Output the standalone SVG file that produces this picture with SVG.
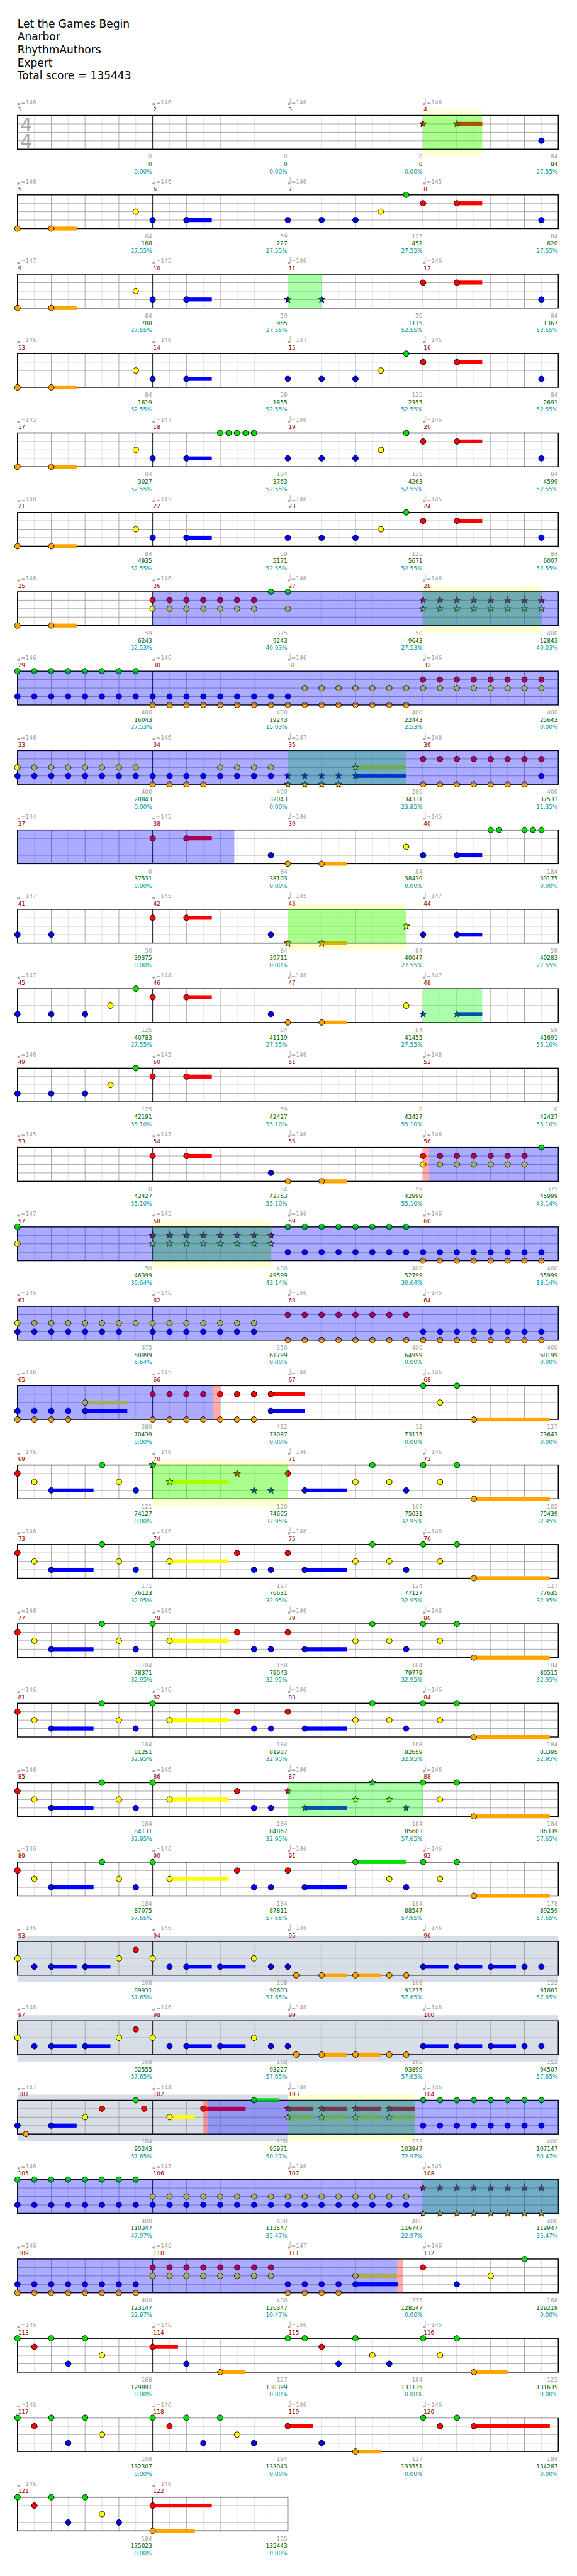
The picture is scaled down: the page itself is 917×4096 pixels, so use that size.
<svg xmlns="http://www.w3.org/2000/svg" width="917" height="4096" viewBox="0 0 917 4096">
<style>
.t{font-family:"DejaVu Sans","Liberation Sans",sans-serif;font-size:10px}
.h{font-family:"DejaVu Sans","Liberation Sans",sans-serif;font-size:19px;fill:#000}
.tp{fill:#a0a0a0}
.mn{fill:#990000}
.l1{fill:#a0a0a0;text-anchor:end}
.l2{fill:#006400;text-anchor:end}
.l3{fill:#009999;text-anchor:end}
.ts{font-family:"DejaVu Sans",sans-serif;font-size:33px;fill:#a8a8a8}
.n{stroke:#000;stroke-width:1}
.G{fill:#00e000}.R{fill:#ff0000}.Y{fill:#ffff00}.B{fill:#0000ff}.O{fill:#ffa500}
.gp{fill:#00ff00;fill-opacity:.33}
.sp{fill:#0000ff;fill-opacity:.33}
.pk{fill:#ff0000;fill-opacity:.33}
.yb{fill:#ffffd0}
.so{fill:#d8dee8}
.e8{stroke:#dddddd;stroke-width:1;fill:none}
.e4{stroke:#a0a0a0;stroke-width:1;fill:none}
.em{stroke:#000;stroke-width:1;fill:none}
.bd{stroke:#000;stroke-width:1.6;fill:none}
</style>
<defs>
<path id="st" d="M0,-6.5L1.53,-2.1L6.18,-2.01L2.47,0.8L3.82,5.26L0,2.6L-3.82,5.26L-2.47,0.8L-6.18,-2.01L-1.53,-2.1Z"/>
<g id="q" fill="#a8a8a8"><ellipse cx="1.8" cy="0" rx="2.4" ry="2"/><rect x="3.6" y="-11" width="1" height="11"/></g>
<g id="grid4">
<path class="e8" d="M61,0V60M121,0V60M181,0V60M241,0V60M301,0V60M361,0V60M421,0V60M481,0V60M541,0V60M601,0V60M661,0V60M721,0V60M781,0V60M841,0V60M901,0V60M961,0V60"/>
<path class="e4" d="M91,0V60M151,0V60M211,0V60M331,0V60M391,0V60M451,0V60M571,0V60M631,0V60M691,0V60M811,0V60M871,0V60M931,0V60M31,15H991M31,30H991M31,45H991"/>
<path class="em" d="M271,0V60M511,0V60M751,0V60"/>
<rect class="bd" x="31" y="0" width="960" height="60"/>
</g>
<g id="grid2">
<path class="e8" d="M61,0V60M121,0V60M181,0V60M241,0V60M301,0V60M361,0V60M421,0V60M481,0V60"/>
<path class="e4" d="M91,0V60M151,0V60M211,0V60M331,0V60M391,0V60M451,0V60M31,15H511M31,30H511M31,45H511"/>
<path class="em" d="M271,0V60"/>
<rect class="bd" x="31" y="0" width="480" height="60"/>
</g>
<g id="tq4">
<use href="#q" x="31" y="-20"/><use href="#q" x="271" y="-20"/><use href="#q" x="511" y="-20"/><use href="#q" x="751" y="-20"/>
</g>
<g id="vA">
<rect class="B" x="91" y="41.5" width="75" height="7"/><rect class="Y" x="301" y="26.5" width="105" height="7"/>
<circle class="n R" cx="31" cy="15" r="5"/><circle class="n Y" cx="61" cy="30" r="5"/><circle class="n B" cx="91" cy="45" r="5"/><circle class="n G" cx="181" cy="0" r="5"/><circle class="n Y" cx="211" cy="30" r="5"/><circle class="n B" cx="241" cy="45" r="5"/>
<circle class="n G" cx="271" cy="0" r="5"/><circle class="n Y" cx="301" cy="30" r="5"/><circle class="n R" cx="421" cy="15" r="5"/><circle class="n B" cx="451" cy="45" r="5"/><circle class="n B" cx="481" cy="45" r="5"/>
</g>
<g id="vB">
<rect class="B" x="541" y="41.5" width="75" height="7"/>
<circle class="n R" cx="511" cy="15" r="5"/><circle class="n B" cx="541" cy="45" r="5"/><circle class="n Y" cx="631" cy="30" r="5"/><circle class="n G" cx="661" cy="0" r="5"/><circle class="n Y" cx="691" cy="30" r="5"/><circle class="n B" cx="721" cy="45" r="5"/>
</g>
<g id="vC">
<rect class="O" x="841" y="56.5" width="135" height="7"/>
<circle class="n G" cx="751" cy="0" r="5"/><circle class="n Y" cx="781" cy="30" r="5"/><circle class="n G" cx="811" cy="0" r="5"/><circle class="n O" cx="841" cy="60" r="5"/>
</g>
<g id="solo">
<rect class="B" x="91" y="41.5" width="45" height="7"/><rect class="B" x="151" y="41.5" width="45" height="7"/><rect class="B" x="331" y="41.5" width="45" height="7"/><rect class="B" x="391" y="41.5" width="45" height="7"/><rect class="O" x="571" y="56.5" width="45" height="7"/><rect class="O" x="631" y="56.5" width="45" height="7"/><rect class="B" x="751" y="41.5" width="45" height="7"/><rect class="B" x="811" y="41.5" width="45" height="7"/><rect class="B" x="871" y="41.5" width="45" height="7"/>
<circle class="n Y" cx="31" cy="30" r="5"/><circle class="n B" cx="61" cy="45" r="5"/><circle class="n B" cx="91" cy="45" r="5"/><circle class="n B" cx="151" cy="45" r="5"/><circle class="n Y" cx="211" cy="30" r="5"/><circle class="n R" cx="241" cy="15" r="5"/><circle class="n Y" cx="271" cy="30" r="5"/><circle class="n B" cx="301" cy="45" r="5"/><circle class="n B" cx="331" cy="45" r="5"/><circle class="n B" cx="391" cy="45" r="5"/><circle class="n Y" cx="451" cy="30" r="5"/><circle class="n B" cx="481" cy="45" r="5"/><circle class="n B" cx="511" cy="45" r="5"/><circle class="n O" cx="526" cy="60" r="5"/><circle class="n O" cx="571" cy="60" r="5"/><circle class="n O" cx="631" cy="60" r="5"/><circle class="n O" cx="691" cy="60" r="5"/><circle class="n O" cx="721" cy="60" r="5"/><circle class="n B" cx="751" cy="45" r="5"/><circle class="n B" cx="811" cy="45" r="5"/><circle class="n B" cx="871" cy="45" r="5"/><circle class="n B" cx="931" cy="45" r="5"/><circle class="n B" cx="961" cy="45" r="5"/>
</g>
</defs>
<rect width="917" height="4096" fill="#fff"/>
<g transform="scale(0.8953)">
<g id="header">
<text class="h" x="31" y="49">Let the Games Begin</text>
<text class="h" x="31" y="72">Anarbor</text>
<text class="h" x="31" y="95">RhythmAuthors</text>
<text class="h" x="31" y="118">Expert</text>
<text class="h" x="31" y="141">Total score = 135443</text>
</g>

<g id="row1" transform="translate(0,205)">
<rect class="yb" x="751" y="-10" width="105" height="82"/>
<use href="#grid4"/>
<text class="ts" x="36" y="28">4</text><text class="ts" x="36" y="58">4</text>
<rect class="R" x="811" y="11.5" width="45" height="7"/>
<use href="#st" x="751" y="15" class="n R"/><use href="#st" x="811" y="15" class="n R"/>
<circle class="n B" cx="961" cy="45" r="5"/>
<rect class="gp" x="751" y="0" width="105" height="60"/>
<use href="#tq4"/>
<g class="t">
<text class="tp" x="37" y="-20">=146</text><text class="tp" x="277" y="-20">=146</text><text class="tp" x="517" y="-20">=146</text><text class="tp" x="757" y="-20">=146</text>
<text class="mn" x="32" y="-7">1</text><text class="mn" x="272" y="-7">2</text><text class="mn" x="512" y="-7">3</text><text class="mn" x="752" y="-7">4</text>
<text class="l1" x="270" y="77">0</text><text class="l2" x="270" y="90">0</text><text class="l3" x="270" y="103">0.00%</text>
<text class="l1" x="510" y="77">0</text><text class="l2" x="510" y="90">0</text><text class="l3" x="510" y="103">0.00%</text>
<text class="l1" x="750" y="77">0</text><text class="l2" x="750" y="90">0</text><text class="l3" x="750" y="103">0.00%</text>
<text class="l1" x="990" y="77">84</text><text class="l2" x="990" y="90">84</text><text class="l3" x="990" y="103">27.55%</text>
</g>
</g>

<g id="row2" transform="translate(0,346)">
<use href="#grid4"/>
<rect class="O" x="91" y="56.5" width="45" height="7"/><rect class="B" x="331" y="41.5" width="45" height="7"/><rect class="R" x="811" y="11.5" width="45" height="7"/>
<circle class="n O" cx="31" cy="60" r="5"/><circle class="n O" cx="91" cy="60" r="5"/><circle class="n Y" cx="241" cy="30" r="5"/><circle class="n B" cx="271" cy="45" r="5"/><circle class="n B" cx="331" cy="45" r="5"/><circle class="n B" cx="511" cy="45" r="5"/><circle class="n B" cx="571" cy="45" r="5"/><circle class="n B" cx="631" cy="45" r="5"/><circle class="n Y" cx="676" cy="30" r="5"/><circle class="n G" cx="721" cy="0" r="5"/><circle class="n R" cx="751" cy="15" r="5"/><circle class="n R" cx="811" cy="15" r="5"/><circle class="n B" cx="961" cy="45" r="5"/>
<use href="#tq4"/>
<g class="t">
<text class="tp" x="37" y="-20">=146</text><text class="tp" x="277" y="-20">=146</text><text class="tp" x="517" y="-20">=146</text><text class="tp" x="757" y="-20">=145</text>
<text class="mn" x="32" y="-7">5</text><text class="mn" x="272" y="-7">6</text><text class="mn" x="512" y="-7">7</text><text class="mn" x="752" y="-7">8</text>
<text class="l1" x="270" y="77">84</text><text class="l2" x="270" y="90">168</text><text class="l3" x="270" y="103">27.55%</text>
<text class="l1" x="510" y="77">59</text><text class="l2" x="510" y="90">227</text><text class="l3" x="510" y="103">27.55%</text>
<text class="l1" x="750" y="77">125</text><text class="l2" x="750" y="90">452</text><text class="l3" x="750" y="103">27.55%</text>
<text class="l1" x="990" y="77">84</text><text class="l2" x="990" y="90">620</text><text class="l3" x="990" y="103">27.55%</text>
</g>
</g>

<g id="row3" transform="translate(0,487)">
<use href="#grid4"/>
<rect class="O" x="91" y="56.5" width="45" height="7"/><rect class="B" x="331" y="41.5" width="45" height="7"/><rect class="R" x="811" y="11.5" width="45" height="7"/>
<circle class="n O" cx="31" cy="60" r="5"/><circle class="n O" cx="91" cy="60" r="5"/><circle class="n Y" cx="241" cy="30" r="5"/><circle class="n B" cx="271" cy="45" r="5"/><circle class="n B" cx="331" cy="45" r="5"/>
<use href="#st" x="511" y="45" class="n B"/><use href="#st" x="571" y="45" class="n B"/>
<circle class="n R" cx="751" cy="15" r="5"/><circle class="n R" cx="811" cy="15" r="5"/><circle class="n B" cx="961" cy="45" r="5"/>
<rect class="gp" x="511" y="0" width="60" height="60"/>
<use href="#tq4"/>
<g class="t">
<text class="tp" x="37" y="-20">=147</text><text class="tp" x="277" y="-20">=145</text><text class="tp" x="517" y="-20">=146</text><text class="tp" x="757" y="-20">=146</text>
<text class="mn" x="32" y="-7">9</text><text class="mn" x="272" y="-7">10</text><text class="mn" x="512" y="-7">11</text><text class="mn" x="752" y="-7">12</text>
<text class="l1" x="270" y="77">84</text><text class="l2" x="270" y="90">788</text><text class="l3" x="270" y="103">27.55%</text>
<text class="l1" x="510" y="77">59</text><text class="l2" x="510" y="90">965</text><text class="l3" x="510" y="103">27.55%</text>
<text class="l1" x="750" y="77">50</text><text class="l2" x="750" y="90">1115</text><text class="l3" x="750" y="103">52.55%</text>
<text class="l1" x="990" y="77">84</text><text class="l2" x="990" y="90">1367</text><text class="l3" x="990" y="103">52.55%</text>
</g>
</g>

<g id="row4" transform="translate(0,628)">
<use href="#grid4"/>
<rect class="O" x="91" y="56.5" width="45" height="7"/><rect class="B" x="331" y="41.5" width="45" height="7"/><rect class="R" x="811" y="11.5" width="45" height="7"/>
<circle class="n O" cx="31" cy="60" r="5"/><circle class="n O" cx="91" cy="60" r="5"/><circle class="n Y" cx="241" cy="30" r="5"/><circle class="n B" cx="271" cy="45" r="5"/><circle class="n B" cx="331" cy="45" r="5"/><circle class="n B" cx="511" cy="45" r="5"/><circle class="n B" cx="571" cy="45" r="5"/><circle class="n B" cx="631" cy="45" r="5"/><circle class="n Y" cx="676" cy="30" r="5"/><circle class="n G" cx="721" cy="0" r="5"/><circle class="n R" cx="751" cy="15" r="5"/><circle class="n R" cx="811" cy="15" r="5"/><circle class="n B" cx="961" cy="45" r="5"/>
<use href="#tq4"/>
<g class="t">
<text class="tp" x="37" y="-20">=146</text><text class="tp" x="277" y="-20">=146</text><text class="tp" x="517" y="-20">=147</text><text class="tp" x="757" y="-20">=145</text>
<text class="mn" x="32" y="-7">13</text><text class="mn" x="272" y="-7">14</text><text class="mn" x="512" y="-7">15</text><text class="mn" x="752" y="-7">16</text>
<text class="l1" x="270" y="77">84</text><text class="l2" x="270" y="90">1619</text><text class="l3" x="270" y="103">52.55%</text>
<text class="l1" x="510" y="77">59</text><text class="l2" x="510" y="90">1855</text><text class="l3" x="510" y="103">52.55%</text>
<text class="l1" x="750" y="77">125</text><text class="l2" x="750" y="90">2355</text><text class="l3" x="750" y="103">52.55%</text>
<text class="l1" x="990" y="77">84</text><text class="l2" x="990" y="90">2691</text><text class="l3" x="990" y="103">52.55%</text>
</g>
</g>

<g id="row5" transform="translate(0,769)">
<use href="#grid4"/>
<rect class="O" x="91" y="56.5" width="45" height="7"/><rect class="B" x="331" y="41.5" width="45" height="7"/><rect class="R" x="811" y="11.5" width="45" height="7"/>
<circle class="n O" cx="31" cy="60" r="5"/><circle class="n O" cx="91" cy="60" r="5"/><circle class="n Y" cx="241" cy="30" r="5"/><circle class="n B" cx="271" cy="45" r="5"/><circle class="n B" cx="331" cy="45" r="5"/><circle class="n G" cx="391" cy="0" r="5"/><circle class="n G" cx="406" cy="0" r="5"/><circle class="n G" cx="421" cy="0" r="5"/><circle class="n G" cx="436" cy="0" r="5"/><circle class="n G" cx="451" cy="0" r="5"/><circle class="n B" cx="511" cy="45" r="5"/><circle class="n B" cx="571" cy="45" r="5"/><circle class="n B" cx="631" cy="45" r="5"/><circle class="n Y" cx="676" cy="30" r="5"/><circle class="n G" cx="721" cy="0" r="5"/><circle class="n R" cx="751" cy="15" r="5"/><circle class="n R" cx="811" cy="15" r="5"/><circle class="n B" cx="961" cy="45" r="5"/>
<use href="#tq4"/>
<g class="t">
<text class="tp" x="37" y="-20">=145</text><text class="tp" x="277" y="-20">=147</text><text class="tp" x="517" y="-20">=146</text><text class="tp" x="757" y="-20">=146</text>
<text class="mn" x="32" y="-7">17</text><text class="mn" x="272" y="-7">18</text><text class="mn" x="512" y="-7">19</text><text class="mn" x="752" y="-7">20</text>
<text class="l1" x="270" y="77">84</text><text class="l2" x="270" y="90">3027</text><text class="l3" x="270" y="103">52.55%</text>
<text class="l1" x="510" y="77">184</text><text class="l2" x="510" y="90">3763</text><text class="l3" x="510" y="103">52.55%</text>
<text class="l1" x="750" y="77">125</text><text class="l2" x="750" y="90">4263</text><text class="l3" x="750" y="103">52.55%</text>
<text class="l1" x="990" y="77">84</text><text class="l2" x="990" y="90">4599</text><text class="l3" x="990" y="103">52.55%</text>
</g>
</g>

<g id="row6" transform="translate(0,910)">
<use href="#grid4"/>
<rect class="O" x="91" y="56.5" width="45" height="7"/><rect class="B" x="331" y="41.5" width="45" height="7"/><rect class="R" x="811" y="11.5" width="45" height="7"/>
<circle class="n O" cx="31" cy="60" r="5"/><circle class="n O" cx="91" cy="60" r="5"/><circle class="n Y" cx="241" cy="30" r="5"/><circle class="n B" cx="271" cy="45" r="5"/><circle class="n B" cx="331" cy="45" r="5"/><circle class="n B" cx="511" cy="45" r="5"/><circle class="n B" cx="571" cy="45" r="5"/><circle class="n B" cx="631" cy="45" r="5"/><circle class="n Y" cx="676" cy="30" r="5"/><circle class="n G" cx="721" cy="0" r="5"/><circle class="n R" cx="751" cy="15" r="5"/><circle class="n R" cx="811" cy="15" r="5"/><circle class="n B" cx="961" cy="45" r="5"/>
<use href="#tq4"/>
<g class="t">
<text class="tp" x="37" y="-20">=148</text><text class="tp" x="277" y="-20">=145</text><text class="tp" x="517" y="-20">=146</text><text class="tp" x="757" y="-20">=145</text>
<text class="mn" x="32" y="-7">21</text><text class="mn" x="272" y="-7">22</text><text class="mn" x="512" y="-7">23</text><text class="mn" x="752" y="-7">24</text>
<text class="l1" x="270" y="77">84</text><text class="l2" x="270" y="90">4935</text><text class="l3" x="270" y="103">52.55%</text>
<text class="l1" x="510" y="77">59</text><text class="l2" x="510" y="90">5171</text><text class="l3" x="510" y="103">52.55%</text>
<text class="l1" x="750" y="77">125</text><text class="l2" x="750" y="90">5671</text><text class="l3" x="750" y="103">52.55%</text>
<text class="l1" x="990" y="77">84</text><text class="l2" x="990" y="90">6007</text><text class="l3" x="990" y="103">52.55%</text>
</g>
</g>

<g id="row7" transform="translate(0,1051)">
<rect class="yb" x="751" y="-10" width="210" height="82"/>
<use href="#grid4"/>
<rect class="O" x="91" y="56.5" width="45" height="7"/>
<circle class="n O" cx="31" cy="60" r="5"/><circle class="n O" cx="91" cy="60" r="5"/>
<circle class="n R" cx="271" cy="15" r="5"/><circle class="n R" cx="301" cy="15" r="5"/><circle class="n R" cx="331" cy="15" r="5"/><circle class="n R" cx="361" cy="15" r="5"/><circle class="n R" cx="391" cy="15" r="5"/><circle class="n R" cx="421" cy="15" r="5"/><circle class="n R" cx="451" cy="15" r="5"/>
<circle class="n Y" cx="271" cy="30" r="5"/><circle class="n Y" cx="301" cy="30" r="5"/><circle class="n Y" cx="331" cy="30" r="5"/><circle class="n Y" cx="361" cy="30" r="5"/><circle class="n Y" cx="391" cy="30" r="5"/><circle class="n Y" cx="421" cy="30" r="5"/><circle class="n Y" cx="451" cy="30" r="5"/><circle class="n Y" cx="511" cy="30" r="5"/>
<circle class="n G" cx="481" cy="0" r="5"/><circle class="n G" cx="511" cy="0" r="5"/>
<use href="#st" x="751" y="15" class="n R"/><use href="#st" x="781" y="15" class="n R"/><use href="#st" x="811" y="15" class="n R"/><use href="#st" x="841" y="15" class="n R"/><use href="#st" x="871" y="15" class="n R"/><use href="#st" x="901" y="15" class="n R"/><use href="#st" x="931" y="15" class="n R"/><use href="#st" x="961" y="15" class="n R"/>
<use href="#st" x="751" y="30" class="n Y"/><use href="#st" x="781" y="30" class="n Y"/><use href="#st" x="811" y="30" class="n Y"/><use href="#st" x="841" y="30" class="n Y"/><use href="#st" x="871" y="30" class="n Y"/><use href="#st" x="901" y="30" class="n Y"/><use href="#st" x="931" y="30" class="n Y"/><use href="#st" x="961" y="30" class="n Y"/>
<rect class="gp" x="751" y="0" width="210" height="60"/>
<rect class="sp" x="271" y="0" width="720" height="60"/>
<use href="#tq4"/>
<g class="t">
<text class="tp" x="37" y="-20">=146</text><text class="tp" x="277" y="-20">=146</text><text class="tp" x="517" y="-20">=146</text><text class="tp" x="757" y="-20">=146</text>
<text class="mn" x="32" y="-7">25</text><text class="mn" x="272" y="-7">26</text><text class="mn" x="512" y="-7">27</text><text class="mn" x="752" y="-7">28</text>
<text class="l1" x="270" y="77">59</text><text class="l2" x="270" y="90">6243</text><text class="l3" x="270" y="103">52.53%</text>
<text class="l1" x="510" y="77">375</text><text class="l2" x="510" y="90">9243</text><text class="l3" x="510" y="103">40.03%</text>
<text class="l1" x="750" y="77">50</text><text class="l2" x="750" y="90">9643</text><text class="l3" x="750" y="103">27.53%</text>
<text class="l1" x="990" y="77">400</text><text class="l2" x="990" y="90">12843</text><text class="l3" x="990" y="103">40.03%</text>
</g>
</g>

<g id="row8" transform="translate(0,1192)">
<use href="#grid4"/>
<circle class="n G" cx="31" cy="0" r="5"/><circle class="n G" cx="61" cy="0" r="5"/><circle class="n G" cx="91" cy="0" r="5"/><circle class="n G" cx="121" cy="0" r="5"/><circle class="n G" cx="151" cy="0" r="5"/><circle class="n G" cx="181" cy="0" r="5"/><circle class="n G" cx="211" cy="0" r="5"/><circle class="n G" cx="241" cy="0" r="5"/>
<circle class="n B" cx="31" cy="45" r="5"/><circle class="n B" cx="61" cy="45" r="5"/><circle class="n B" cx="91" cy="45" r="5"/><circle class="n B" cx="121" cy="45" r="5"/><circle class="n B" cx="151" cy="45" r="5"/><circle class="n B" cx="181" cy="45" r="5"/><circle class="n B" cx="211" cy="45" r="5"/><circle class="n B" cx="241" cy="45" r="5"/><circle class="n B" cx="271" cy="45" r="5"/><circle class="n B" cx="301" cy="45" r="5"/><circle class="n B" cx="331" cy="45" r="5"/><circle class="n B" cx="361" cy="45" r="5"/><circle class="n B" cx="391" cy="45" r="5"/><circle class="n B" cx="421" cy="45" r="5"/><circle class="n B" cx="451" cy="45" r="5"/><circle class="n B" cx="481" cy="45" r="5"/><circle class="n B" cx="511" cy="45" r="5"/>
<circle class="n O" cx="271" cy="60" r="5"/><circle class="n O" cx="301" cy="60" r="5"/><circle class="n O" cx="331" cy="60" r="5"/><circle class="n O" cx="361" cy="60" r="5"/><circle class="n O" cx="391" cy="60" r="5"/><circle class="n O" cx="421" cy="60" r="5"/><circle class="n O" cx="451" cy="60" r="5"/><circle class="n O" cx="481" cy="60" r="5"/><circle class="n O" cx="511" cy="60" r="5"/><circle class="n O" cx="541" cy="60" r="5"/><circle class="n O" cx="571" cy="60" r="5"/><circle class="n O" cx="601" cy="60" r="5"/><circle class="n O" cx="631" cy="60" r="5"/><circle class="n O" cx="661" cy="60" r="5"/><circle class="n O" cx="691" cy="60" r="5"/><circle class="n O" cx="721" cy="60" r="5"/>
<circle class="n Y" cx="541" cy="30" r="5"/><circle class="n Y" cx="571" cy="30" r="5"/><circle class="n Y" cx="601" cy="30" r="5"/><circle class="n Y" cx="631" cy="30" r="5"/><circle class="n Y" cx="661" cy="30" r="5"/><circle class="n Y" cx="691" cy="30" r="5"/><circle class="n Y" cx="721" cy="30" r="5"/><circle class="n Y" cx="751" cy="30" r="5"/><circle class="n Y" cx="781" cy="30" r="5"/><circle class="n Y" cx="811" cy="30" r="5"/><circle class="n Y" cx="841" cy="30" r="5"/><circle class="n Y" cx="871" cy="30" r="5"/><circle class="n Y" cx="901" cy="30" r="5"/><circle class="n Y" cx="931" cy="30" r="5"/><circle class="n Y" cx="961" cy="30" r="5"/>
<circle class="n R" cx="751" cy="15" r="5"/><circle class="n R" cx="781" cy="15" r="5"/><circle class="n R" cx="811" cy="15" r="5"/><circle class="n R" cx="841" cy="15" r="5"/><circle class="n R" cx="871" cy="15" r="5"/><circle class="n R" cx="901" cy="15" r="5"/><circle class="n R" cx="931" cy="15" r="5"/><circle class="n R" cx="961" cy="15" r="5"/>
<rect class="sp" x="31" y="0" width="960" height="60"/>
<use href="#tq4"/>
<g class="t">
<text class="tp" x="37" y="-20">=146</text><text class="tp" x="277" y="-20">=146</text><text class="tp" x="517" y="-20">=146</text><text class="tp" x="757" y="-20">=146</text>
<text class="mn" x="32" y="-7">29</text><text class="mn" x="272" y="-7">30</text><text class="mn" x="512" y="-7">31</text><text class="mn" x="752" y="-7">32</text>
<text class="l1" x="270" y="77">400</text><text class="l2" x="270" y="90">16043</text><text class="l3" x="270" y="103">27.53%</text>
<text class="l1" x="510" y="77">400</text><text class="l2" x="510" y="90">19243</text><text class="l3" x="510" y="103">15.03%</text>
<text class="l1" x="750" y="77">400</text><text class="l2" x="750" y="90">22443</text><text class="l3" x="750" y="103">2.53%</text>
<text class="l1" x="990" y="77">400</text><text class="l2" x="990" y="90">25643</text><text class="l3" x="990" y="103">0.00%</text>
</g>
</g>

<g id="row9" transform="translate(0,1333)">
<use href="#grid4"/>
<rect class="B" x="631" y="41.5" width="90" height="7"/><rect class="Y" x="631" y="26.5" width="90" height="7"/>
<circle class="n Y" cx="31" cy="30" r="5"/><circle class="n Y" cx="61" cy="30" r="5"/><circle class="n Y" cx="91" cy="30" r="5"/><circle class="n Y" cx="121" cy="30" r="5"/><circle class="n Y" cx="151" cy="30" r="5"/><circle class="n Y" cx="181" cy="30" r="5"/><circle class="n Y" cx="211" cy="30" r="5"/><circle class="n Y" cx="241" cy="30" r="5"/><circle class="n Y" cx="391" cy="30" r="5"/><circle class="n Y" cx="421" cy="30" r="5"/><circle class="n Y" cx="451" cy="30" r="5"/><circle class="n Y" cx="481" cy="30" r="5"/>
<circle class="n B" cx="31" cy="45" r="5"/><circle class="n B" cx="61" cy="45" r="5"/><circle class="n B" cx="91" cy="45" r="5"/><circle class="n B" cx="121" cy="45" r="5"/><circle class="n B" cx="151" cy="45" r="5"/><circle class="n B" cx="181" cy="45" r="5"/><circle class="n B" cx="211" cy="45" r="5"/><circle class="n B" cx="241" cy="45" r="5"/><circle class="n B" cx="271" cy="45" r="5"/><circle class="n B" cx="301" cy="45" r="5"/><circle class="n B" cx="331" cy="45" r="5"/><circle class="n B" cx="361" cy="45" r="5"/><circle class="n B" cx="391" cy="45" r="5"/><circle class="n B" cx="421" cy="45" r="5"/><circle class="n B" cx="451" cy="45" r="5"/><circle class="n B" cx="481" cy="45" r="5"/>
<circle class="n O" cx="271" cy="60" r="5"/><circle class="n O" cx="301" cy="60" r="5"/><circle class="n O" cx="331" cy="60" r="5"/><circle class="n O" cx="361" cy="60" r="5"/>
<use href="#st" x="511" y="45" class="n B"/><use href="#st" x="541" y="45" class="n B"/><use href="#st" x="571" y="45" class="n B"/><use href="#st" x="601" y="45" class="n B"/><use href="#st" x="631" y="45" class="n B"/>
<use href="#st" x="511" y="60" class="n O"/><use href="#st" x="541" y="60" class="n O"/><use href="#st" x="571" y="60" class="n O"/><use href="#st" x="601" y="60" class="n O"/><use href="#st" x="631" y="30" class="n Y"/>
<circle class="n R" cx="751" cy="15" r="5"/><circle class="n R" cx="781" cy="15" r="5"/><circle class="n R" cx="811" cy="15" r="5"/><circle class="n R" cx="841" cy="15" r="5"/><circle class="n R" cx="871" cy="15" r="5"/><circle class="n R" cx="901" cy="15" r="5"/><circle class="n R" cx="931" cy="15" r="5"/><circle class="n R" cx="961" cy="15" r="5"/>
<circle class="n B" cx="961" cy="45" r="5"/>
<circle class="n O" cx="751" cy="60" r="5"/><circle class="n O" cx="781" cy="60" r="5"/><circle class="n O" cx="811" cy="60" r="5"/><circle class="n O" cx="841" cy="60" r="5"/><circle class="n O" cx="871" cy="60" r="5"/><circle class="n O" cx="901" cy="60" r="5"/><circle class="n O" cx="931" cy="60" r="5"/>
<rect class="gp" x="511" y="0" width="210" height="60"/>
<rect class="sp" x="31" y="0" width="960" height="60"/>
<use href="#tq4"/>
<g class="t">
<text class="tp" x="37" y="-20">=146</text><text class="tp" x="277" y="-20">=146</text><text class="tp" x="517" y="-20">=147</text><text class="tp" x="757" y="-20">=148</text>
<text class="mn" x="32" y="-7">33</text><text class="mn" x="272" y="-7">34</text><text class="mn" x="512" y="-7">35</text><text class="mn" x="752" y="-7">36</text>
<text class="l1" x="270" y="77">400</text><text class="l2" x="270" y="90">28843</text><text class="l3" x="270" y="103">0.00%</text>
<text class="l1" x="510" y="77">400</text><text class="l2" x="510" y="90">32043</text><text class="l3" x="510" y="103">0.00%</text>
<text class="l1" x="750" y="77">286</text><text class="l2" x="750" y="90">34331</text><text class="l3" x="750" y="103">23.85%</text>
<text class="l1" x="990" y="77">400</text><text class="l2" x="990" y="90">37531</text><text class="l3" x="990" y="103">11.35%</text>
</g>
</g>

<g id="row10" transform="translate(0,1474)">
<use href="#grid4"/>
<rect class="R" x="331" y="11.5" width="45" height="7"/><rect class="O" x="571" y="56.5" width="45" height="7"/><rect class="B" x="811" y="41.5" width="45" height="7"/>
<circle class="n R" cx="271" cy="15" r="5"/><circle class="n R" cx="331" cy="15" r="5"/><circle class="n B" cx="481" cy="45" r="5"/><circle class="n O" cx="511" cy="60" r="5"/><circle class="n O" cx="571" cy="60" r="5"/><circle class="n Y" cx="721" cy="30" r="5"/><circle class="n B" cx="751" cy="45" r="5"/><circle class="n B" cx="811" cy="45" r="5"/><circle class="n G" cx="871" cy="0" r="5"/><circle class="n G" cx="886" cy="0" r="5"/><circle class="n G" cx="931" cy="0" r="5"/><circle class="n G" cx="946" cy="0" r="5"/><circle class="n G" cx="961" cy="0" r="5"/>
<rect class="sp" x="31" y="0" width="385" height="60"/>
<use href="#tq4"/>
<g class="t">
<text class="tp" x="37" y="-20">=144</text><text class="tp" x="277" y="-20">=145</text><text class="tp" x="517" y="-20">=146</text><text class="tp" x="757" y="-20">=145</text>
<text class="mn" x="32" y="-7">37</text><text class="mn" x="272" y="-7">38</text><text class="mn" x="512" y="-7">39</text><text class="mn" x="752" y="-7">40</text>
<text class="l1" x="270" y="77">0</text><text class="l2" x="270" y="90">37531</text><text class="l3" x="270" y="103">0.00%</text>
<text class="l1" x="510" y="77">84</text><text class="l2" x="510" y="90">38103</text><text class="l3" x="510" y="103">0.00%</text>
<text class="l1" x="750" y="77">84</text><text class="l2" x="750" y="90">38439</text><text class="l3" x="750" y="103">0.00%</text>
<text class="l1" x="990" y="77">184</text><text class="l2" x="990" y="90">39175</text><text class="l3" x="990" y="103">0.00%</text>
</g>
</g>

<g id="row11" transform="translate(0,1615)">
<rect class="yb" x="511" y="-10" width="210" height="82"/>
<use href="#grid4"/>
<rect class="R" x="331" y="11.5" width="45" height="7"/><rect class="O" x="571" y="56.5" width="45" height="7"/><rect class="B" x="811" y="41.5" width="45" height="7"/>
<circle class="n B" cx="31" cy="45" r="5"/><circle class="n B" cx="91" cy="45" r="5"/><circle class="n R" cx="271" cy="15" r="5"/><circle class="n R" cx="331" cy="15" r="5"/><circle class="n B" cx="481" cy="45" r="5"/>
<use href="#st" x="511" y="60" class="n O"/><use href="#st" x="571" y="60" class="n O"/><use href="#st" x="721" y="30" class="n Y"/>
<circle class="n B" cx="751" cy="45" r="5"/><circle class="n B" cx="811" cy="45" r="5"/>
<rect class="gp" x="511" y="0" width="210" height="60"/>
<use href="#tq4"/>
<g class="t">
<text class="tp" x="37" y="-20">=147</text><text class="tp" x="277" y="-20">=145</text><text class="tp" x="517" y="-20">=145</text><text class="tp" x="757" y="-20">=147</text>
<text class="mn" x="32" y="-7">41</text><text class="mn" x="272" y="-7">42</text><text class="mn" x="512" y="-7">43</text><text class="mn" x="752" y="-7">44</text>
<text class="l1" x="270" y="77">50</text><text class="l2" x="270" y="90">39375</text><text class="l3" x="270" y="103">0.00%</text>
<text class="l1" x="510" y="77">84</text><text class="l2" x="510" y="90">39711</text><text class="l3" x="510" y="103">0.00%</text>
<text class="l1" x="750" y="77">84</text><text class="l2" x="750" y="90">40047</text><text class="l3" x="750" y="103">27.55%</text>
<text class="l1" x="990" y="77">59</text><text class="l2" x="990" y="90">40283</text><text class="l3" x="990" y="103">27.55%</text>
</g>
</g>

<g id="row12" transform="translate(0,1756)">
<use href="#grid4"/>
<rect class="R" x="331" y="11.5" width="45" height="7"/><rect class="O" x="571" y="56.5" width="45" height="7"/><rect class="B" x="811" y="41.5" width="45" height="7"/>
<circle class="n B" cx="31" cy="45" r="5"/><circle class="n B" cx="91" cy="45" r="5"/><circle class="n B" cx="151" cy="45" r="5"/><circle class="n Y" cx="196" cy="30" r="5"/><circle class="n G" cx="241" cy="0" r="5"/><circle class="n R" cx="271" cy="15" r="5"/><circle class="n R" cx="331" cy="15" r="5"/><circle class="n B" cx="481" cy="45" r="5"/><circle class="n O" cx="511" cy="60" r="5"/><circle class="n O" cx="571" cy="60" r="5"/><circle class="n Y" cx="721" cy="30" r="5"/>
<use href="#st" x="751" y="45" class="n B"/><use href="#st" x="811" y="45" class="n B"/>
<rect class="gp" x="751" y="0" width="105" height="60"/>
<use href="#tq4"/>
<g class="t">
<text class="tp" x="37" y="-20">=147</text><text class="tp" x="277" y="-20">=144</text><text class="tp" x="517" y="-20">=146</text><text class="tp" x="757" y="-20">=147</text>
<text class="mn" x="32" y="-7">45</text><text class="mn" x="272" y="-7">46</text><text class="mn" x="512" y="-7">47</text><text class="mn" x="752" y="-7">48</text>
<text class="l1" x="270" y="77">125</text><text class="l2" x="270" y="90">40783</text><text class="l3" x="270" y="103">27.55%</text>
<text class="l1" x="510" y="77">84</text><text class="l2" x="510" y="90">41119</text><text class="l3" x="510" y="103">27.55%</text>
<text class="l1" x="750" y="77">84</text><text class="l2" x="750" y="90">41455</text><text class="l3" x="750" y="103">27.55%</text>
<text class="l1" x="990" y="77">59</text><text class="l2" x="990" y="90">41691</text><text class="l3" x="990" y="103">55.10%</text>
</g>
</g>

<g id="row13" transform="translate(0,1897)">
<use href="#grid4"/>
<rect class="R" x="331" y="11.5" width="45" height="7"/>
<circle class="n B" cx="31" cy="45" r="5"/><circle class="n B" cx="91" cy="45" r="5"/><circle class="n B" cx="151" cy="45" r="5"/><circle class="n Y" cx="196" cy="30" r="5"/><circle class="n G" cx="241" cy="0" r="5"/><circle class="n R" cx="271" cy="15" r="5"/><circle class="n R" cx="331" cy="15" r="5"/>
<use href="#tq4"/>
<g class="t">
<text class="tp" x="37" y="-20">=146</text><text class="tp" x="277" y="-20">=145</text><text class="tp" x="517" y="-20">=146</text><text class="tp" x="757" y="-20">=148</text>
<text class="mn" x="32" y="-7">49</text><text class="mn" x="272" y="-7">50</text><text class="mn" x="512" y="-7">51</text><text class="mn" x="752" y="-7">52</text>
<text class="l1" x="270" y="77">125</text><text class="l2" x="270" y="90">42191</text><text class="l3" x="270" y="103">55.10%</text>
<text class="l1" x="510" y="77">59</text><text class="l2" x="510" y="90">42427</text><text class="l3" x="510" y="103">55.10%</text>
<text class="l1" x="750" y="77">0</text><text class="l2" x="750" y="90">42427</text><text class="l3" x="750" y="103">55.10%</text>
<text class="l1" x="990" y="77">0</text><text class="l2" x="990" y="90">42427</text><text class="l3" x="990" y="103">55.10%</text>
</g>
</g>

<g id="row14" transform="translate(0,2038)">
<use href="#grid4"/>
<rect class="R" x="331" y="11.5" width="45" height="7"/><rect class="O" x="571" y="56.5" width="45" height="7"/>
<circle class="n R" cx="271" cy="15" r="5"/><circle class="n R" cx="331" cy="15" r="5"/><circle class="n B" cx="481" cy="45" r="5"/><circle class="n O" cx="511" cy="60" r="5"/><circle class="n O" cx="571" cy="60" r="5"/>
<circle class="n R" cx="751" cy="15" r="5"/><circle class="n R" cx="781" cy="15" r="5"/><circle class="n R" cx="811" cy="15" r="5"/><circle class="n R" cx="841" cy="15" r="5"/><circle class="n R" cx="871" cy="15" r="5"/><circle class="n R" cx="901" cy="15" r="5"/><circle class="n R" cx="931" cy="15" r="5"/>
<circle class="n Y" cx="751" cy="30" r="5"/><circle class="n Y" cx="781" cy="30" r="5"/><circle class="n Y" cx="811" cy="30" r="5"/><circle class="n Y" cx="841" cy="30" r="5"/><circle class="n Y" cx="871" cy="30" r="5"/><circle class="n Y" cx="901" cy="30" r="5"/><circle class="n Y" cx="931" cy="30" r="5"/>
<circle class="n G" cx="961" cy="0" r="5"/>
<rect class="pk" x="751" y="0" width="10" height="60"/>
<rect class="sp" x="761" y="0" width="230" height="60"/>
<use href="#tq4"/>
<g class="t">
<text class="tp" x="37" y="-20">=145</text><text class="tp" x="277" y="-20">=147</text><text class="tp" x="517" y="-20">=146</text><text class="tp" x="757" y="-20">=146</text>
<text class="mn" x="32" y="-7">53</text><text class="mn" x="272" y="-7">54</text><text class="mn" x="512" y="-7">55</text><text class="mn" x="752" y="-7">56</text>
<text class="l1" x="270" y="77">0</text><text class="l2" x="270" y="90">42427</text><text class="l3" x="270" y="103">55.10%</text>
<text class="l1" x="510" y="77">84</text><text class="l2" x="510" y="90">42763</text><text class="l3" x="510" y="103">55.10%</text>
<text class="l1" x="750" y="77">59</text><text class="l2" x="750" y="90">42999</text><text class="l3" x="750" y="103">55.10%</text>
<text class="l1" x="990" y="77">375</text><text class="l2" x="990" y="90">45999</text><text class="l3" x="990" y="103">43.14%</text>
</g>
</g>

<g id="row15" transform="translate(0,2179)">
<rect class="yb" x="271" y="-10" width="210" height="82"/>
<use href="#grid4"/>
<circle class="n G" cx="31" cy="0" r="5"/><circle class="n Y" cx="31" cy="30" r="5"/>
<use href="#st" x="271" y="15" class="n R"/><use href="#st" x="301" y="15" class="n R"/><use href="#st" x="331" y="15" class="n R"/><use href="#st" x="361" y="15" class="n R"/><use href="#st" x="391" y="15" class="n R"/><use href="#st" x="421" y="15" class="n R"/><use href="#st" x="451" y="15" class="n R"/><use href="#st" x="481" y="15" class="n R"/>
<use href="#st" x="271" y="30" class="n Y"/><use href="#st" x="301" y="30" class="n Y"/><use href="#st" x="331" y="30" class="n Y"/><use href="#st" x="361" y="30" class="n Y"/><use href="#st" x="391" y="30" class="n Y"/><use href="#st" x="421" y="30" class="n Y"/><use href="#st" x="451" y="30" class="n Y"/><use href="#st" x="481" y="30" class="n Y"/>
<circle class="n G" cx="511" cy="0" r="5"/><circle class="n G" cx="541" cy="0" r="5"/><circle class="n G" cx="571" cy="0" r="5"/><circle class="n G" cx="601" cy="0" r="5"/><circle class="n G" cx="631" cy="0" r="5"/><circle class="n G" cx="661" cy="0" r="5"/><circle class="n G" cx="691" cy="0" r="5"/><circle class="n G" cx="721" cy="0" r="5"/>
<circle class="n B" cx="511" cy="45" r="5"/><circle class="n B" cx="541" cy="45" r="5"/><circle class="n B" cx="571" cy="45" r="5"/><circle class="n B" cx="601" cy="45" r="5"/><circle class="n B" cx="631" cy="45" r="5"/><circle class="n B" cx="661" cy="45" r="5"/><circle class="n B" cx="691" cy="45" r="5"/><circle class="n B" cx="721" cy="45" r="5"/><circle class="n B" cx="751" cy="45" r="5"/><circle class="n B" cx="781" cy="45" r="5"/><circle class="n B" cx="811" cy="45" r="5"/><circle class="n B" cx="841" cy="45" r="5"/><circle class="n B" cx="871" cy="45" r="5"/><circle class="n B" cx="901" cy="45" r="5"/><circle class="n B" cx="931" cy="45" r="5"/><circle class="n B" cx="961" cy="45" r="5"/>
<circle class="n O" cx="751" cy="60" r="5"/><circle class="n O" cx="781" cy="60" r="5"/><circle class="n O" cx="811" cy="60" r="5"/><circle class="n O" cx="841" cy="60" r="5"/><circle class="n O" cx="871" cy="60" r="5"/><circle class="n O" cx="901" cy="60" r="5"/><circle class="n O" cx="931" cy="60" r="5"/><circle class="n O" cx="961" cy="60" r="5"/>
<rect class="gp" x="271" y="0" width="210" height="60"/>
<rect class="sp" x="31" y="0" width="960" height="60"/>
<use href="#tq4"/>
<g class="t">
<text class="tp" x="37" y="-20">=147</text><text class="tp" x="277" y="-20">=145</text><text class="tp" x="517" y="-20">=146</text><text class="tp" x="757" y="-20">=146</text>
<text class="mn" x="32" y="-7">57</text><text class="mn" x="272" y="-7">58</text><text class="mn" x="512" y="-7">59</text><text class="mn" x="752" y="-7">60</text>
<text class="l1" x="270" y="77">50</text><text class="l2" x="270" y="90">46399</text><text class="l3" x="270" y="103">30.64%</text>
<text class="l1" x="510" y="77">400</text><text class="l2" x="510" y="90">49599</text><text class="l3" x="510" y="103">43.14%</text>
<text class="l1" x="750" y="77">400</text><text class="l2" x="750" y="90">52799</text><text class="l3" x="750" y="103">30.64%</text>
<text class="l1" x="990" y="77">400</text><text class="l2" x="990" y="90">55999</text><text class="l3" x="990" y="103">18.14%</text>
</g>
</g>

<g id="row16" transform="translate(0,2320)">
<use href="#grid4"/>
<circle class="n Y" cx="31" cy="30" r="5"/><circle class="n Y" cx="61" cy="30" r="5"/><circle class="n Y" cx="91" cy="30" r="5"/><circle class="n Y" cx="121" cy="30" r="5"/><circle class="n Y" cx="151" cy="30" r="5"/><circle class="n Y" cx="181" cy="30" r="5"/><circle class="n Y" cx="211" cy="30" r="5"/><circle class="n Y" cx="241" cy="30" r="5"/><circle class="n Y" cx="271" cy="30" r="5"/><circle class="n Y" cx="301" cy="30" r="5"/><circle class="n Y" cx="331" cy="30" r="5"/><circle class="n Y" cx="361" cy="30" r="5"/><circle class="n Y" cx="391" cy="30" r="5"/><circle class="n Y" cx="421" cy="30" r="5"/><circle class="n Y" cx="451" cy="30" r="5"/>
<circle class="n B" cx="31" cy="45" r="5"/><circle class="n B" cx="61" cy="45" r="5"/><circle class="n B" cx="91" cy="45" r="5"/><circle class="n B" cx="121" cy="45" r="5"/><circle class="n B" cx="151" cy="45" r="5"/><circle class="n B" cx="181" cy="45" r="5"/><circle class="n B" cx="211" cy="45" r="5"/><circle class="n B" cx="271" cy="45" r="5"/><circle class="n B" cx="301" cy="45" r="5"/><circle class="n B" cx="331" cy="45" r="5"/><circle class="n B" cx="361" cy="45" r="5"/><circle class="n B" cx="391" cy="45" r="5"/><circle class="n B" cx="421" cy="45" r="5"/><circle class="n B" cx="451" cy="45" r="5"/>
<circle class="n R" cx="511" cy="15" r="5"/><circle class="n R" cx="541" cy="15" r="5"/><circle class="n R" cx="571" cy="15" r="5"/><circle class="n R" cx="601" cy="15" r="5"/><circle class="n R" cx="631" cy="15" r="5"/><circle class="n R" cx="661" cy="15" r="5"/><circle class="n R" cx="691" cy="15" r="5"/><circle class="n R" cx="721" cy="15" r="5"/>
<circle class="n O" cx="511" cy="60" r="5"/><circle class="n O" cx="541" cy="60" r="5"/><circle class="n O" cx="571" cy="60" r="5"/><circle class="n O" cx="601" cy="60" r="5"/><circle class="n O" cx="631" cy="60" r="5"/><circle class="n O" cx="661" cy="60" r="5"/><circle class="n O" cx="691" cy="60" r="5"/><circle class="n O" cx="721" cy="60" r="5"/>
<circle class="n B" cx="751" cy="45" r="5"/><circle class="n B" cx="781" cy="45" r="5"/><circle class="n B" cx="811" cy="45" r="5"/><circle class="n B" cx="841" cy="45" r="5"/><circle class="n B" cx="871" cy="45" r="5"/><circle class="n B" cx="901" cy="45" r="5"/><circle class="n B" cx="931" cy="45" r="5"/><circle class="n B" cx="961" cy="45" r="5"/>
<circle class="n O" cx="751" cy="60" r="5"/><circle class="n O" cx="781" cy="60" r="5"/><circle class="n O" cx="811" cy="60" r="5"/><circle class="n O" cx="841" cy="60" r="5"/><circle class="n O" cx="871" cy="60" r="5"/><circle class="n O" cx="901" cy="60" r="5"/><circle class="n O" cx="931" cy="60" r="5"/><circle class="n O" cx="961" cy="60" r="5"/>
<rect class="sp" x="31" y="0" width="960" height="60"/>
<use href="#tq4"/>
<g class="t">
<text class="tp" x="37" y="-20">=146</text><text class="tp" x="277" y="-20">=146</text><text class="tp" x="517" y="-20">=146</text><text class="tp" x="757" y="-20">=146</text>
<text class="mn" x="32" y="-7">61</text><text class="mn" x="272" y="-7">62</text><text class="mn" x="512" y="-7">63</text><text class="mn" x="752" y="-7">64</text>
<text class="l1" x="270" y="77">375</text><text class="l2" x="270" y="90">58999</text><text class="l3" x="270" y="103">5.64%</text>
<text class="l1" x="510" y="77">350</text><text class="l2" x="510" y="90">61799</text><text class="l3" x="510" y="103">0.00%</text>
<text class="l1" x="750" y="77">400</text><text class="l2" x="750" y="90">64999</text><text class="l3" x="750" y="103">0.00%</text>
<text class="l1" x="990" y="77">400</text><text class="l2" x="990" y="90">68199</text><text class="l3" x="990" y="103">0.00%</text>
</g>
</g>

<g id="row17" transform="translate(0,2461)">
<use href="#grid4"/>
<rect class="Y" x="151" y="26.5" width="75" height="7"/><rect class="B" x="151" y="41.5" width="75" height="7"/><rect class="R" x="481" y="11.5" width="60" height="7"/><rect class="B" x="481" y="41.5" width="60" height="7"/><rect class="O" x="841" y="56.5" width="135" height="7"/>
<circle class="n B" cx="31" cy="45" r="5"/><circle class="n B" cx="61" cy="45" r="5"/><circle class="n B" cx="91" cy="45" r="5"/><circle class="n B" cx="121" cy="45" r="5"/><circle class="n B" cx="151" cy="45" r="5"/><circle class="n Y" cx="151" cy="30" r="5"/>
<circle class="n O" cx="31" cy="60" r="5"/><circle class="n O" cx="61" cy="60" r="5"/><circle class="n O" cx="91" cy="60" r="5"/><circle class="n O" cx="121" cy="60" r="5"/>
<circle class="n O" cx="271" cy="60" r="5"/><circle class="n O" cx="301" cy="60" r="5"/><circle class="n O" cx="331" cy="60" r="5"/><circle class="n O" cx="361" cy="60" r="5"/><circle class="n O" cx="391" cy="60" r="5"/><circle class="n O" cx="421" cy="60" r="5"/><circle class="n O" cx="451" cy="60" r="5"/>
<circle class="n R" cx="271" cy="15" r="5"/><circle class="n R" cx="301" cy="15" r="5"/><circle class="n R" cx="331" cy="15" r="5"/><circle class="n R" cx="361" cy="15" r="5"/><circle class="n R" cx="391" cy="15" r="5"/><circle class="n R" cx="421" cy="15" r="5"/><circle class="n R" cx="451" cy="15" r="5"/><circle class="n R" cx="481" cy="15" r="5"/>
<circle class="n B" cx="481" cy="45" r="5"/><circle class="n G" cx="751" cy="0" r="5"/><circle class="n G" cx="811" cy="0" r="5"/><circle class="n Y" cx="781" cy="30" r="5"/><circle class="n O" cx="841" cy="60" r="5"/>
<rect class="sp" x="31" y="0" width="347" height="60"/>
<rect class="pk" x="378" y="0" width="13" height="60"/>
<use href="#tq4"/>
<g class="t">
<text class="tp" x="37" y="-20">=146</text><text class="tp" x="277" y="-20">=145</text><text class="tp" x="517" y="-20">=146</text><text class="tp" x="757" y="-20">=146</text>
<text class="mn" x="32" y="-7">65</text><text class="mn" x="272" y="-7">66</text><text class="mn" x="512" y="-7">67</text><text class="mn" x="752" y="-7">68</text>
<text class="l1" x="270" y="77">280</text><text class="l2" x="270" y="90">70439</text><text class="l3" x="270" y="103">0.00%</text>
<text class="l1" x="510" y="77">412</text><text class="l2" x="510" y="90">73087</text><text class="l3" x="510" y="103">0.00%</text>
<text class="l1" x="750" y="77">12</text><text class="l2" x="750" y="90">73135</text><text class="l3" x="750" y="103">0.00%</text>
<text class="l1" x="990" y="77">127</text><text class="l2" x="990" y="90">73643</text><text class="l3" x="990" y="103">0.00%</text>
</g>
</g>

<g id="row18" transform="translate(0,2602)">
<rect class="yb" x="271" y="-10" width="240" height="82"/>
<use href="#grid4"/>
<rect class="B" x="91" y="41.5" width="75" height="7"/><rect class="Y" x="301" y="26.5" width="105" height="7"/>
<circle class="n R" cx="31" cy="15" r="5"/><circle class="n Y" cx="61" cy="30" r="5"/><circle class="n B" cx="91" cy="45" r="5"/><circle class="n G" cx="181" cy="0" r="5"/><circle class="n Y" cx="211" cy="30" r="5"/><circle class="n B" cx="241" cy="45" r="5"/>
<use href="#st" x="271" y="0" class="n G"/><use href="#st" x="301" y="30" class="n Y"/><use href="#st" x="421" y="15" class="n R"/><use href="#st" x="451" y="45" class="n B"/><use href="#st" x="481" y="45" class="n B"/>
<use href="#vB"/><use href="#vC"/>
<rect class="gp" x="271" y="0" width="240" height="60"/>
<use href="#tq4"/>
<g class="t">
<text class="tp" x="37" y="-20">=146</text><text class="tp" x="277" y="-20">=146</text><text class="tp" x="517" y="-20">=146</text><text class="tp" x="757" y="-20">=146</text>
<text class="mn" x="32" y="-7">69</text><text class="mn" x="272" y="-7">70</text><text class="mn" x="512" y="-7">71</text><text class="mn" x="752" y="-7">72</text>
<text class="l1" x="270" y="77">121</text><text class="l2" x="270" y="90">74127</text><text class="l3" x="270" y="103">0.00%</text>
<text class="l1" x="510" y="77">120</text><text class="l2" x="510" y="90">74605</text><text class="l3" x="510" y="103">32.95%</text>
<text class="l1" x="750" y="77">107</text><text class="l2" x="750" y="90">75031</text><text class="l3" x="750" y="103">32.95%</text>
<text class="l1" x="990" y="77">102</text><text class="l2" x="990" y="90">75439</text><text class="l3" x="990" y="103">32.95%</text>
</g>
</g>

<g id="row19" transform="translate(0,2743)">
<use href="#grid4"/>
<use href="#vA"/><use href="#vB"/><use href="#vC"/>
<use href="#tq4"/>
<g class="t">
<text class="tp" x="37" y="-20">=146</text><text class="tp" x="277" y="-20">=146</text><text class="tp" x="517" y="-20">=146</text><text class="tp" x="757" y="-20">=146</text>
<text class="mn" x="32" y="-7">73</text><text class="mn" x="272" y="-7">74</text><text class="mn" x="512" y="-7">75</text><text class="mn" x="752" y="-7">76</text>
<text class="l1" x="270" y="77">171</text><text class="l2" x="270" y="90">76123</text><text class="l3" x="270" y="103">32.95%</text>
<text class="l1" x="510" y="77">127</text><text class="l2" x="510" y="90">76631</text><text class="l3" x="510" y="103">32.95%</text>
<text class="l1" x="750" y="77">124</text><text class="l2" x="750" y="90">77127</text><text class="l3" x="750" y="103">32.95%</text>
<text class="l1" x="990" y="77">127</text><text class="l2" x="990" y="90">77635</text><text class="l3" x="990" y="103">32.95%</text>
</g>
</g>

<g id="row20" transform="translate(0,2884)">
<use href="#grid4"/>
<use href="#vA"/><use href="#vB"/><use href="#vC"/>
<use href="#tq4"/>
<g class="t">
<text class="tp" x="37" y="-20">=146</text><text class="tp" x="277" y="-20">=146</text><text class="tp" x="517" y="-20">=146</text><text class="tp" x="757" y="-20">=146</text>
<text class="mn" x="32" y="-7">77</text><text class="mn" x="272" y="-7">78</text><text class="mn" x="512" y="-7">79</text><text class="mn" x="752" y="-7">80</text>
<text class="l1" x="270" y="77">184</text><text class="l2" x="270" y="90">78371</text><text class="l3" x="270" y="103">32.95%</text>
<text class="l1" x="510" y="77">168</text><text class="l2" x="510" y="90">79043</text><text class="l3" x="510" y="103">32.95%</text>
<text class="l1" x="750" y="77">184</text><text class="l2" x="750" y="90">79779</text><text class="l3" x="750" y="103">32.95%</text>
<text class="l1" x="990" y="77">184</text><text class="l2" x="990" y="90">80515</text><text class="l3" x="990" y="103">32.95%</text>
</g>
</g>

<g id="row21" transform="translate(0,3025)">
<use href="#grid4"/>
<use href="#vA"/><use href="#vB"/><use href="#vC"/>
<use href="#tq4"/>
<g class="t">
<text class="tp" x="37" y="-20">=146</text><text class="tp" x="277" y="-20">=146</text><text class="tp" x="517" y="-20">=146</text><text class="tp" x="757" y="-20">=146</text>
<text class="mn" x="32" y="-7">81</text><text class="mn" x="272" y="-7">82</text><text class="mn" x="512" y="-7">83</text><text class="mn" x="752" y="-7">84</text>
<text class="l1" x="270" y="77">184</text><text class="l2" x="270" y="90">81251</text><text class="l3" x="270" y="103">32.95%</text>
<text class="l1" x="510" y="77">184</text><text class="l2" x="510" y="90">81987</text><text class="l3" x="510" y="103">32.95%</text>
<text class="l1" x="750" y="77">168</text><text class="l2" x="750" y="90">82659</text><text class="l3" x="750" y="103">32.95%</text>
<text class="l1" x="990" y="77">184</text><text class="l2" x="990" y="90">83395</text><text class="l3" x="990" y="103">32.95%</text>
</g>
</g>

<g id="row22" transform="translate(0,3166)">
<use href="#grid4"/>
<use href="#vA"/>
<rect class="B" x="541" y="41.5" width="75" height="7"/>
<use href="#st" x="511" y="15" class="n R"/><use href="#st" x="541" y="45" class="n B"/><use href="#st" x="631" y="30" class="n Y"/><use href="#st" x="661" y="0" class="n G"/><use href="#st" x="691" y="30" class="n Y"/><use href="#st" x="721" y="45" class="n B"/>
<use href="#vC"/>
<rect class="gp" x="511" y="0" width="240" height="60"/>
<use href="#tq4"/>
<g class="t">
<text class="tp" x="37" y="-20">=146</text><text class="tp" x="277" y="-20">=146</text><text class="tp" x="517" y="-20">=146</text><text class="tp" x="757" y="-20">=146</text>
<text class="mn" x="32" y="-7">85</text><text class="mn" x="272" y="-7">86</text><text class="mn" x="512" y="-7">87</text><text class="mn" x="752" y="-7">88</text>
<text class="l1" x="270" y="77">184</text><text class="l2" x="270" y="90">84131</text><text class="l3" x="270" y="103">32.95%</text>
<text class="l1" x="510" y="77">184</text><text class="l2" x="510" y="90">84867</text><text class="l3" x="510" y="103">32.95%</text>
<text class="l1" x="750" y="77">184</text><text class="l2" x="750" y="90">85603</text><text class="l3" x="750" y="103">57.65%</text>
<text class="l1" x="990" y="77">184</text><text class="l2" x="990" y="90">86339</text><text class="l3" x="990" y="103">57.65%</text>
</g>
</g>

<g id="row23" transform="translate(0,3307)">
<use href="#grid4"/>
<use href="#vA"/>
<rect class="B" x="541" y="41.5" width="75" height="7"/><rect class="G" x="631" y="-3.5" width="90" height="7"/>
<circle class="n R" cx="511" cy="15" r="5"/><circle class="n B" cx="541" cy="45" r="5"/><circle class="n G" cx="631" cy="0" r="5"/><circle class="n Y" cx="691" cy="30" r="5"/><circle class="n B" cx="721" cy="45" r="5"/>
<use href="#vC"/>
<use href="#tq4"/>
<g class="t">
<text class="tp" x="37" y="-20">=146</text><text class="tp" x="277" y="-20">=146</text><text class="tp" x="517" y="-20">=146</text><text class="tp" x="757" y="-20">=146</text>
<text class="mn" x="32" y="-7">89</text><text class="mn" x="272" y="-7">90</text><text class="mn" x="512" y="-7">91</text><text class="mn" x="752" y="-7">92</text>
<text class="l1" x="270" y="77">184</text><text class="l2" x="270" y="90">87075</text><text class="l3" x="270" y="103">57.65%</text>
<text class="l1" x="510" y="77">184</text><text class="l2" x="510" y="90">87811</text><text class="l3" x="510" y="103">57.65%</text>
<text class="l1" x="750" y="77">184</text><text class="l2" x="750" y="90">88547</text><text class="l3" x="750" y="103">57.65%</text>
<text class="l1" x="990" y="77">178</text><text class="l2" x="990" y="90">89259</text><text class="l3" x="990" y="103">57.65%</text>
</g>
</g>

<g id="row24" transform="translate(0,3448)">
<rect class="so" x="31" y="-10" width="960" height="82"/>
<use href="#grid4"/>
<use href="#solo"/>
<use href="#tq4"/>
<g class="t">
<text class="tp" x="37" y="-20">=146</text><text class="tp" x="277" y="-20">=146</text><text class="tp" x="517" y="-20">=146</text><text class="tp" x="757" y="-20">=146</text>
<text class="mn" x="32" y="-7">93</text><text class="mn" x="272" y="-7">94</text><text class="mn" x="512" y="-7">95</text><text class="mn" x="752" y="-7">96</text>
<text class="l1" x="270" y="77">168</text><text class="l2" x="270" y="90">89931</text><text class="l3" x="270" y="103">57.65%</text>
<text class="l1" x="510" y="77">168</text><text class="l2" x="510" y="90">90603</text><text class="l3" x="510" y="103">57.65%</text>
<text class="l1" x="750" y="77">168</text><text class="l2" x="750" y="90">91275</text><text class="l3" x="750" y="103">57.65%</text>
<text class="l1" x="990" y="77">152</text><text class="l2" x="990" y="90">91883</text><text class="l3" x="990" y="103">57.65%</text>
</g>
</g>

<g id="row25" transform="translate(0,3589)">
<rect class="so" x="31" y="-10" width="960" height="82"/>
<use href="#grid4"/>
<use href="#solo"/>
<use href="#tq4"/>
<g class="t">
<text class="tp" x="37" y="-20">=146</text><text class="tp" x="277" y="-20">=146</text><text class="tp" x="517" y="-20">=146</text><text class="tp" x="757" y="-20">=146</text>
<text class="mn" x="32" y="-7">97</text><text class="mn" x="272" y="-7">98</text><text class="mn" x="512" y="-7">99</text><text class="mn" x="752" y="-7">100</text>
<text class="l1" x="270" y="77">168</text><text class="l2" x="270" y="90">92555</text><text class="l3" x="270" y="103">57.65%</text>
<text class="l1" x="510" y="77">168</text><text class="l2" x="510" y="90">93227</text><text class="l3" x="510" y="103">57.65%</text>
<text class="l1" x="750" y="77">168</text><text class="l2" x="750" y="90">93899</text><text class="l3" x="750" y="103">57.65%</text>
<text class="l1" x="990" y="77">152</text><text class="l2" x="990" y="90">94507</text><text class="l3" x="990" y="103">57.65%</text>
</g>
</g>

<g id="row26" transform="translate(0,3730)">
<rect class="so" x="31" y="-10" width="480" height="82"/>
<rect class="yb" x="511" y="-10" width="225" height="82"/>
<use href="#grid4"/>
<rect class="B" x="91" y="41.5" width="45" height="7"/><rect class="Y" x="301" y="26.5" width="45" height="7"/><rect class="R" x="361" y="11.5" width="75" height="7"/><rect class="G" x="451" y="-3.5" width="45" height="7"/>
<rect class="R" x="511" y="11.5" width="45" height="7"/><rect class="R" x="571" y="11.5" width="45" height="7"/><rect class="R" x="631" y="11.5" width="45" height="7"/><rect class="R" x="691" y="11.5" width="45" height="7"/>
<rect class="Y" x="511" y="26.5" width="45" height="7"/><rect class="Y" x="571" y="26.5" width="45" height="7"/><rect class="Y" x="631" y="26.5" width="45" height="7"/><rect class="Y" x="691" y="26.5" width="45" height="7"/>
<circle class="n B" cx="31" cy="45" r="5"/><circle class="n O" cx="46" cy="60" r="5"/><circle class="n B" cx="91" cy="45" r="5"/><circle class="n Y" cx="151" cy="30" r="5"/><circle class="n R" cx="181" cy="15" r="5"/><circle class="n G" cx="241" cy="0" r="5"/><circle class="n R" cx="256" cy="15" r="5"/><circle class="n Y" cx="301" cy="30" r="5"/><circle class="n R" cx="361" cy="15" r="5"/><circle class="n G" cx="451" cy="0" r="5"/>
<use href="#st" x="511" y="15" class="n R"/><use href="#st" x="571" y="15" class="n R"/><use href="#st" x="631" y="15" class="n R"/><use href="#st" x="691" y="15" class="n R"/>
<use href="#st" x="511" y="30" class="n Y"/><use href="#st" x="571" y="30" class="n Y"/><use href="#st" x="631" y="30" class="n Y"/><use href="#st" x="691" y="30" class="n Y"/>
<circle class="n G" cx="751" cy="0" r="5"/><circle class="n G" cx="781" cy="0" r="5"/><circle class="n G" cx="811" cy="0" r="5"/><circle class="n G" cx="841" cy="0" r="5"/><circle class="n G" cx="871" cy="0" r="5"/><circle class="n G" cx="901" cy="0" r="5"/><circle class="n G" cx="931" cy="0" r="5"/><circle class="n G" cx="961" cy="0" r="5"/>
<circle class="n B" cx="751" cy="45" r="5"/><circle class="n B" cx="781" cy="45" r="5"/><circle class="n B" cx="811" cy="45" r="5"/><circle class="n B" cx="841" cy="45" r="5"/><circle class="n B" cx="871" cy="45" r="5"/><circle class="n B" cx="901" cy="45" r="5"/><circle class="n B" cx="931" cy="45" r="5"/><circle class="n B" cx="961" cy="45" r="5"/>
<rect class="gp" x="511" y="0" width="225" height="60"/>
<rect class="pk" x="361" y="0" width="8.5" height="60"/>
<rect class="sp" x="369.5" y="0" width="621.5" height="60"/>
<use href="#tq4"/>
<g class="t">
<text class="tp" x="37" y="-20">=147</text><text class="tp" x="277" y="-20">=144</text><text class="tp" x="517" y="-20">=146</text><text class="tp" x="757" y="-20">=146</text>
<text class="mn" x="32" y="-7">101</text><text class="mn" x="272" y="-7">102</text><text class="mn" x="512" y="-7">103</text><text class="mn" x="752" y="-7">104</text>
<text class="l1" x="270" y="77">184</text><text class="l2" x="270" y="90">95243</text><text class="l3" x="270" y="103">57.65%</text>
<text class="l1" x="510" y="77">108</text><text class="l2" x="510" y="90">95971</text><text class="l3" x="510" y="103">50.27%</text>
<text class="l1" x="750" y="77">272</text><text class="l2" x="750" y="90">103947</text><text class="l3" x="750" y="103">72.97%</text>
<text class="l1" x="990" y="77">400</text><text class="l2" x="990" y="90">107147</text><text class="l3" x="990" y="103">60.47%</text>
</g>
</g>

<g id="row27" transform="translate(0,3871)">
<use href="#grid4"/>
<circle class="n G" cx="31" cy="0" r="5"/><circle class="n G" cx="61" cy="0" r="5"/><circle class="n G" cx="91" cy="0" r="5"/><circle class="n G" cx="121" cy="0" r="5"/><circle class="n G" cx="151" cy="0" r="5"/><circle class="n G" cx="181" cy="0" r="5"/><circle class="n G" cx="211" cy="0" r="5"/><circle class="n G" cx="241" cy="0" r="5"/>
<circle class="n B" cx="31" cy="45" r="5"/><circle class="n B" cx="61" cy="45" r="5"/><circle class="n B" cx="91" cy="45" r="5"/><circle class="n B" cx="121" cy="45" r="5"/><circle class="n B" cx="151" cy="45" r="5"/><circle class="n B" cx="181" cy="45" r="5"/><circle class="n B" cx="211" cy="45" r="5"/><circle class="n B" cx="241" cy="45" r="5"/>
<circle class="n Y" cx="271" cy="30" r="5"/><circle class="n Y" cx="301" cy="30" r="5"/><circle class="n Y" cx="331" cy="30" r="5"/><circle class="n Y" cx="361" cy="30" r="5"/><circle class="n Y" cx="391" cy="30" r="5"/><circle class="n Y" cx="421" cy="30" r="5"/><circle class="n Y" cx="451" cy="30" r="5"/><circle class="n Y" cx="481" cy="30" r="5"/><circle class="n Y" cx="511" cy="30" r="5"/><circle class="n Y" cx="541" cy="30" r="5"/><circle class="n Y" cx="571" cy="30" r="5"/><circle class="n Y" cx="601" cy="30" r="5"/><circle class="n Y" cx="631" cy="30" r="5"/><circle class="n Y" cx="661" cy="30" r="5"/><circle class="n Y" cx="691" cy="30" r="5"/><circle class="n Y" cx="721" cy="30" r="5"/>
<circle class="n B" cx="271" cy="45" r="5"/><circle class="n B" cx="301" cy="45" r="5"/><circle class="n B" cx="331" cy="45" r="5"/><circle class="n B" cx="361" cy="45" r="5"/><circle class="n B" cx="391" cy="45" r="5"/><circle class="n B" cx="421" cy="45" r="5"/><circle class="n B" cx="451" cy="45" r="5"/><circle class="n B" cx="481" cy="45" r="5"/><circle class="n B" cx="511" cy="45" r="5"/><circle class="n B" cx="541" cy="45" r="5"/><circle class="n B" cx="571" cy="45" r="5"/><circle class="n B" cx="601" cy="45" r="5"/><circle class="n B" cx="631" cy="45" r="5"/><circle class="n B" cx="661" cy="45" r="5"/><circle class="n B" cx="691" cy="45" r="5"/><circle class="n B" cx="721" cy="45" r="5"/>
<use href="#st" x="751" y="15" class="n R"/><use href="#st" x="781" y="15" class="n R"/><use href="#st" x="811" y="15" class="n R"/><use href="#st" x="841" y="15" class="n R"/><use href="#st" x="871" y="15" class="n R"/><use href="#st" x="901" y="15" class="n R"/><use href="#st" x="931" y="15" class="n R"/><use href="#st" x="961" y="15" class="n R"/>
<use href="#st" x="751" y="60" class="n O"/><use href="#st" x="781" y="60" class="n O"/><use href="#st" x="811" y="60" class="n O"/><use href="#st" x="841" y="60" class="n O"/><use href="#st" x="871" y="60" class="n O"/><use href="#st" x="901" y="60" class="n O"/><use href="#st" x="931" y="60" class="n O"/><use href="#st" x="961" y="60" class="n O"/>
<rect class="gp" x="751" y="0" width="240" height="60"/>
<rect class="sp" x="31" y="0" width="960" height="60"/>
<use href="#tq4"/>
<g class="t">
<text class="tp" x="37" y="-20">=146</text><text class="tp" x="277" y="-20">=147</text><text class="tp" x="517" y="-20">=146</text><text class="tp" x="757" y="-20">=145</text>
<text class="mn" x="32" y="-7">105</text><text class="mn" x="272" y="-7">106</text><text class="mn" x="512" y="-7">107</text><text class="mn" x="752" y="-7">108</text>
<text class="l1" x="270" y="77">400</text><text class="l2" x="270" y="90">110347</text><text class="l3" x="270" y="103">47.97%</text>
<text class="l1" x="510" y="77">400</text><text class="l2" x="510" y="90">113547</text><text class="l3" x="510" y="103">35.47%</text>
<text class="l1" x="750" y="77">400</text><text class="l2" x="750" y="90">116747</text><text class="l3" x="750" y="103">22.97%</text>
<text class="l1" x="990" y="77">400</text><text class="l2" x="990" y="90">119947</text><text class="l3" x="990" y="103">35.47%</text>
</g>
</g>

<g id="row28" transform="translate(0,4012)">
<use href="#grid4"/>
<rect class="Y" x="631" y="26.5" width="75" height="7"/><rect class="B" x="631" y="41.5" width="75" height="7"/>
<circle class="n B" cx="31" cy="45" r="5"/><circle class="n B" cx="61" cy="45" r="5"/><circle class="n B" cx="91" cy="45" r="5"/><circle class="n B" cx="121" cy="45" r="5"/><circle class="n B" cx="151" cy="45" r="5"/><circle class="n B" cx="181" cy="45" r="5"/><circle class="n B" cx="211" cy="45" r="5"/><circle class="n B" cx="241" cy="45" r="5"/>
<circle class="n O" cx="31" cy="60" r="5"/><circle class="n O" cx="61" cy="60" r="5"/><circle class="n O" cx="91" cy="60" r="5"/><circle class="n O" cx="121" cy="60" r="5"/><circle class="n O" cx="151" cy="60" r="5"/><circle class="n O" cx="181" cy="60" r="5"/><circle class="n O" cx="211" cy="60" r="5"/><circle class="n O" cx="241" cy="60" r="5"/>
<circle class="n R" cx="271" cy="15" r="5"/><circle class="n R" cx="301" cy="15" r="5"/><circle class="n R" cx="331" cy="15" r="5"/><circle class="n R" cx="361" cy="15" r="5"/><circle class="n R" cx="391" cy="15" r="5"/><circle class="n R" cx="421" cy="15" r="5"/><circle class="n R" cx="451" cy="15" r="5"/><circle class="n R" cx="481" cy="15" r="5"/>
<circle class="n Y" cx="271" cy="30" r="5"/><circle class="n Y" cx="301" cy="30" r="5"/><circle class="n Y" cx="331" cy="30" r="5"/><circle class="n Y" cx="361" cy="30" r="5"/><circle class="n Y" cx="391" cy="30" r="5"/><circle class="n Y" cx="421" cy="30" r="5"/><circle class="n Y" cx="451" cy="30" r="5"/><circle class="n Y" cx="481" cy="30" r="5"/>
<circle class="n B" cx="511" cy="45" r="5"/><circle class="n B" cx="541" cy="45" r="5"/><circle class="n B" cx="571" cy="45" r="5"/><circle class="n B" cx="601" cy="45" r="5"/><circle class="n O" cx="511" cy="60" r="5"/><circle class="n O" cx="541" cy="60" r="5"/><circle class="n O" cx="571" cy="60" r="5"/><circle class="n O" cx="601" cy="60" r="5"/>
<circle class="n Y" cx="631" cy="30" r="5"/><circle class="n B" cx="631" cy="45" r="5"/>
<circle class="n R" cx="751" cy="15" r="5"/><circle class="n B" cx="811" cy="45" r="5"/><circle class="n Y" cx="871" cy="30" r="5"/><circle class="n G" cx="931" cy="0" r="5"/>
<rect class="sp" x="31" y="0" width="674" height="60"/>
<rect class="pk" x="705" y="0" width="10" height="60"/>
<use href="#tq4"/>
<g class="t">
<text class="tp" x="37" y="-20">=146</text><text class="tp" x="277" y="-20">=146</text><text class="tp" x="517" y="-20">=147</text><text class="tp" x="757" y="-20">=146</text>
<text class="mn" x="32" y="-7">109</text><text class="mn" x="272" y="-7">110</text><text class="mn" x="512" y="-7">111</text><text class="mn" x="752" y="-7">112</text>
<text class="l1" x="270" y="77">400</text><text class="l2" x="270" y="90">123147</text><text class="l3" x="270" y="103">22.97%</text>
<text class="l1" x="510" y="77">400</text><text class="l2" x="510" y="90">126347</text><text class="l3" x="510" y="103">10.47%</text>
<text class="l1" x="750" y="77">275</text><text class="l2" x="750" y="90">128547</text><text class="l3" x="750" y="103">0.00%</text>
<text class="l1" x="990" y="77">168</text><text class="l2" x="990" y="90">129219</text><text class="l3" x="990" y="103">0.00%</text>
</g>
</g>

<g id="row29" transform="translate(0,4153)">
<use href="#grid4"/>
<rect class="R" x="271" y="11.5" width="45" height="7"/><rect class="O" x="391" y="56.5" width="45" height="7"/><rect class="O" x="841" y="56.5" width="60" height="7"/>
<circle class="n G" cx="31" cy="0" r="5"/><circle class="n R" cx="61" cy="15" r="5"/><circle class="n G" cx="91" cy="0" r="5"/><circle class="n B" cx="121" cy="45" r="5"/><circle class="n G" cx="151" cy="0" r="5"/><circle class="n Y" cx="181" cy="30" r="5"/>
<circle class="n R" cx="271" cy="15" r="5"/><circle class="n B" cx="331" cy="45" r="5"/><circle class="n O" cx="391" cy="60" r="5"/>
<circle class="n G" cx="511" cy="0" r="5"/><circle class="n G" cx="541" cy="0" r="5"/><circle class="n R" cx="571" cy="15" r="5"/><circle class="n B" cx="601" cy="45" r="5"/><circle class="n G" cx="631" cy="0" r="5"/><circle class="n Y" cx="661" cy="30" r="5"/><circle class="n B" cx="691" cy="45" r="5"/>
<circle class="n G" cx="751" cy="0" r="5"/><circle class="n Y" cx="781" cy="30" r="5"/><circle class="n G" cx="811" cy="0" r="5"/><circle class="n O" cx="841" cy="60" r="5"/>
<use href="#tq4"/>
<g class="t">
<text class="tp" x="37" y="-20">=146</text><text class="tp" x="277" y="-20">=146</text><text class="tp" x="517" y="-20">=146</text><text class="tp" x="757" y="-20">=146</text>
<text class="mn" x="32" y="-7">113</text><text class="mn" x="272" y="-7">114</text><text class="mn" x="512" y="-7">115</text><text class="mn" x="752" y="-7">116</text>
<text class="l1" x="270" y="77">168</text><text class="l2" x="270" y="90">129891</text><text class="l3" x="270" y="103">0.00%</text>
<text class="l1" x="510" y="77">127</text><text class="l2" x="510" y="90">130399</text><text class="l3" x="510" y="103">0.00%</text>
<text class="l1" x="750" y="77">184</text><text class="l2" x="750" y="90">131135</text><text class="l3" x="750" y="103">0.00%</text>
<text class="l1" x="990" y="77">125</text><text class="l2" x="990" y="90">131635</text><text class="l3" x="990" y="103">0.00%</text>
</g>
</g>

<g id="row30" transform="translate(0,4294)">
<use href="#grid4"/>
<rect class="R" x="511" y="11.5" width="45" height="7"/><rect class="O" x="631" y="56.5" width="45" height="7"/><rect class="R" x="841" y="11.5" width="135" height="7"/>
<circle class="n G" cx="31" cy="0" r="5"/><circle class="n R" cx="61" cy="15" r="5"/><circle class="n G" cx="91" cy="0" r="5"/><circle class="n B" cx="121" cy="45" r="5"/><circle class="n G" cx="151" cy="0" r="5"/><circle class="n Y" cx="181" cy="30" r="5"/>
<circle class="n G" cx="271" cy="0" r="5"/><circle class="n R" cx="301" cy="15" r="5"/><circle class="n G" cx="331" cy="0" r="5"/><circle class="n B" cx="361" cy="45" r="5"/><circle class="n G" cx="391" cy="0" r="5"/><circle class="n Y" cx="421" cy="30" r="5"/><circle class="n B" cx="451" cy="45" r="5"/>
<circle class="n R" cx="511" cy="15" r="5"/><circle class="n B" cx="571" cy="45" r="5"/><circle class="n O" cx="631" cy="60" r="5"/>
<circle class="n G" cx="751" cy="0" r="5"/><circle class="n R" cx="781" cy="15" r="5"/><circle class="n G" cx="811" cy="0" r="5"/><circle class="n R" cx="841" cy="15" r="5"/>
<use href="#tq4"/>
<g class="t">
<text class="tp" x="37" y="-20">=146</text><text class="tp" x="277" y="-20">=146</text><text class="tp" x="517" y="-20">=146</text><text class="tp" x="757" y="-20">=146</text>
<text class="mn" x="32" y="-7">117</text><text class="mn" x="272" y="-7">118</text><text class="mn" x="512" y="-7">119</text><text class="mn" x="752" y="-7">120</text>
<text class="l1" x="270" y="77">168</text><text class="l2" x="270" y="90">132307</text><text class="l3" x="270" y="103">0.00%</text>
<text class="l1" x="510" y="77">184</text><text class="l2" x="510" y="90">133043</text><text class="l3" x="510" y="103">0.00%</text>
<text class="l1" x="750" y="77">127</text><text class="l2" x="750" y="90">133551</text><text class="l3" x="750" y="103">0.00%</text>
<text class="l1" x="990" y="77">184</text><text class="l2" x="990" y="90">134287</text><text class="l3" x="990" y="103">0.00%</text>
</g>
</g>

<g id="row31" transform="translate(0,4435)">
<use href="#grid2"/>
<rect class="R" x="271" y="11.5" width="105" height="7"/><rect class="O" x="271" y="56.5" width="75" height="7"/>
<circle class="n G" cx="31" cy="0" r="5"/><circle class="n R" cx="61" cy="15" r="5"/><circle class="n G" cx="91" cy="0" r="5"/><circle class="n B" cx="121" cy="45" r="5"/><circle class="n G" cx="151" cy="0" r="5"/><circle class="n Y" cx="181" cy="30" r="5"/><circle class="n B" cx="211" cy="45" r="5"/>
<circle class="n R" cx="271" cy="15" r="5"/><circle class="n O" cx="271" cy="60" r="5"/>
<use href="#q" x="31" y="-20"/><use href="#q" x="271" y="-20"/>
<g class="t">
<text class="tp" x="37" y="-20">=146</text><text class="tp" x="277" y="-20">=146</text>
<text class="mn" x="32" y="-7">121</text><text class="mn" x="272" y="-7">122</text>
<text class="l1" x="270" y="77">184</text><text class="l2" x="270" y="90">135023</text><text class="l3" x="270" y="103">0.00%</text>
<text class="l1" x="510" y="77">105</text><text class="l2" x="510" y="90">135443</text><text class="l3" x="510" y="103">0.00%</text>
</g>
</g>
</g>
</svg>
